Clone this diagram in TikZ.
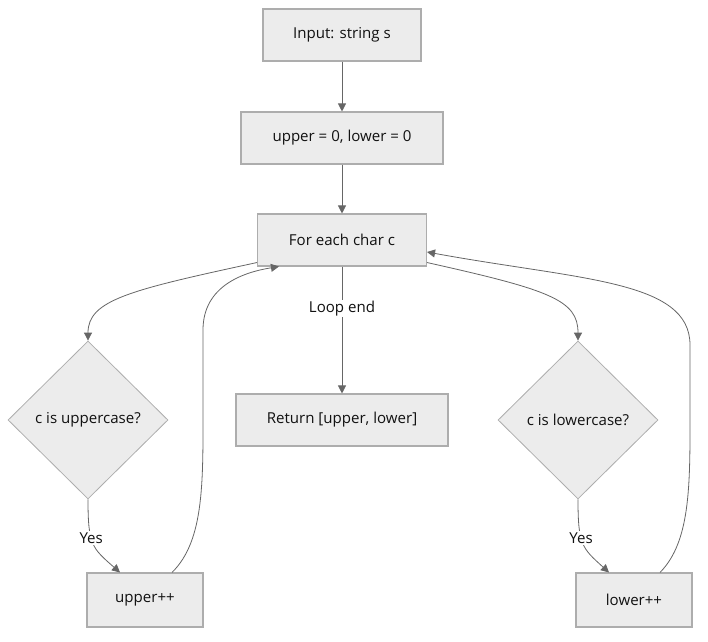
\documentclass[tikz,border=0pt]{standalone}
\usepackage{fontspec}
\setmainfont{Open Sans}
\usetikzlibrary{shapes.geometric,arrows.meta}

\definecolor{boxfill}{HTML}{ECECEC}
\definecolor{boxline}{HTML}{ADADAD}
\definecolor{edgeline}{HTML}{666666}
\definecolor{labeltext}{HTML}{111111}

\tikzset{
  stepbox/.style={draw=boxline, fill=boxfill, line width=0.8pt, rectangle,
    minimum height=39pt, inner sep=0pt, font=\fontsize{11.3}{13}\selectfont, text=labeltext},
  decision/.style={draw=boxline, fill=boxfill, line width=0.6pt, diamond, aspect=1,
    minimum width=120pt, minimum height=118.5pt, inner sep=0pt,
    font=\fontsize{11.3}{13}\selectfont, text=labeltext},
  arr/.style={draw=edgeline, line width=0.6pt, -{Triangle[length=6pt,width=6pt]}},
  edgelabel/.style={fill=white, inner sep=1pt, font=\fontsize{11.3}{13}\selectfont, text=labeltext}
}

\begin{document}
\begin{tikzpicture}[x=0.75pt,y=-0.75pt]
\useasboundingbox (0,0) rectangle (708,642);

% main column
\node[stepbox, minimum width=118.5pt] (input) at (342,35) {Input: string s};
\node[stepbox, minimum width=151.5pt] (init) at (342,138) {upper = 0, lower = 0};
\node[stepbox, minimum width=126.75pt] (loop) at (342,240) {For each char c};
\node[stepbox, minimum width=159pt] (ret) at (342,420) {Return [upper, lower]};

% branches
\node[decision] (isup) at (88,420) {c is uppercase?};
\node[decision] (islow) at (578,420) {c is lowercase?};
\node[stepbox, minimum width=87pt, minimum height=40.5pt] (incup) at (145,600) {upper++};
\node[stepbox, minimum width=87pt, minimum height=40.5pt] (inclow) at (634,600) {lower++};

\draw[arr] (input) -- (init);
\draw[arr] (init) -- (loop);
\draw[arr] (loop) -- node[edgelabel, pos=0.33] {Loop end} (ret);

\draw[arr] ([yshift=3pt]loop.south west) .. controls (130,290) and (88,300) .. (isup.north);
\draw[arr] ([yshift=3pt]loop.south east) .. controls (550,290) and (578,300) .. (islow.north);

\draw[arr] (isup.south) .. controls (88,545) and (92,548) .. node[edgelabel, pos=0.4] {Yes} ([xshift=-18.75pt]incup.north);
\draw[arr] (islow.south) .. controls (578,545) and (582,548) .. node[edgelabel, pos=0.4] {Yes} ([xshift=-18.75pt]inclow.north);

\draw[arr] ([xshift=20.25pt]incup.north) .. controls (205,540) and (203,480) .. (203,400)
  -- (203,330) .. controls (203,285) and (245,272) .. ([xshift=16.5pt]loop.south west);
\draw[arr] ([xshift=19.5pt]inclow.north) .. controls (692,540) and (690,480) .. (690,400)
  -- (690,345) .. controls (690,280) and (580,280) .. ([yshift=-9pt]loop.east);

\end{tikzpicture}
\end{document}
